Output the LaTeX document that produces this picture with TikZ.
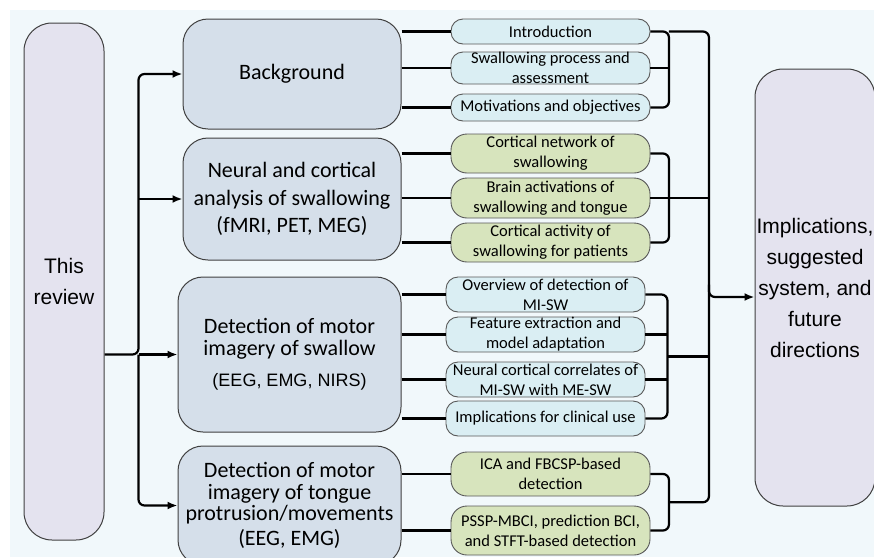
\documentclass[tikz,border=0pt]{standalone}
\usepackage{fontspec}
\setmainfont{Carlito}
\newfontfamily\arialfont{Liberation Sans}
\usetikzlibrary{arrows.meta}
\usetikzlibrary{calc}

\definecolor{panelbg}{HTML}{F1F8FB}
\definecolor{mainfill}{HTML}{D5DFEA}
\definecolor{sidefill}{HTML}{E4E3EF}
\definecolor{bluefill}{HTML}{DAEEF3}
\definecolor{greenfill}{HTML}{D7E4BD}

\tikzset{
  mainbox/.style={draw=black!75, line width=1pt, fill=mainfill, rounded corners=25pt, align=center, inner sep=0pt, font=\fontsize{22}{27.5}\selectfont},
  sidebox/.style={draw=black!75, line width=1pt, fill=sidefill, rounded corners=28pt, align=center, inner sep=0pt, font=\arialfont\fontsize{21}{31}\selectfont},
  subblue/.style={draw=black!65, line width=0.9pt, fill=bluefill, rounded corners=12pt, align=center, inner sep=0pt, minimum width=199pt, font=\fontsize{16.5}{20}\selectfont},
  subgreen/.style={subblue, fill=greenfill, rounded corners=16pt},
  link/.style={line width=2.2pt, rounded corners=6pt},
  arrow/.style={link, -{Latex[length=10pt,width=8pt]}},
}

\begin{document}
\begin{tikzpicture}[x=1pt,y=1pt,yscale=-1]
\useasboundingbox (0,0) rectangle (874,557);
%Shape: Rectangle
\fill[panelbg] (10,10) rectangle (874,557);

%Outer boxes
\node[sidebox, minimum width=80pt, minimum height=517pt] (review) at (64,281.5) {This\\review};
\node[sidebox, minimum width=120pt, minimum height=437pt] (impl) at (815,287.5) {Implications,\\suggested\\system, and\\future\\directions};

%Main boxes
\node[mainbox, minimum width=218pt, minimum height=110pt] (bg) at (292,74) {Background};
\node[mainbox, minimum width=218pt, minimum height=122pt] (neural) at (292,199) {Neural and cortical\\analysis of swallowing\\(fMRI, PET, MEG)};
\node[mainbox, minimum width=223pt, minimum height=155pt, font=\fontsize{22}{21.5}\selectfont] (detsw) at (289.5,354.5) {Detection of motor\\imagery of swallow\\[9.5pt]{\arialfont\fontsize{18}{20}\selectfont(EEG, EMG, NIRS)}};
\node[mainbox, minimum width=223pt, minimum height=119pt, font=\fontsize{22}{21.5}\selectfont] (tongue) at (289.5,505.5) {Detection of motor\\imagery of tongue\\protrusion/movements\\[3pt](EEG, EMG)};

%Sub items
\node[subblue, minimum height=25pt] (intro) at (550.5,31.5) {Introduction};
\node[subblue, minimum height=32pt] (swproc) at (550.5,68) {Swallowing process and\\assessment};
\node[subblue, minimum height=27pt] (motiv) at (550.5,107.5) {Motivations and objectives};
\node[subgreen, minimum height=39pt] (cortnet) at (550.5,153.5) {Cortical network of\\swallowing};
\node[subgreen, minimum height=40pt] (brainact) at (550.5,198) {Brain activations of\\swallowing and tongue};
\node[subgreen, minimum height=39pt] (cortact) at (550.5,242.5) {Cortical activity of\\swallowing for patients};
\node[subblue, minimum height=35pt] (overview) at (545.5,294.5) {Overview of detection of\\MI-SW};
\node[subblue, minimum height=35pt] (feature) at (545.5,334.5) {Feature extraction and\\model adaptation};
\node[subblue, minimum height=35pt] (correl) at (545.5,379.5) {Neural cortical correlates of\\MI-SW with ME-SW};
\node[subblue, minimum height=35pt] (implic) at (545.5,418.5) {Implications for clinical use};
\node[subgreen, minimum height=44pt] (ica) at (550.5,474) {ICA and FBCSP-based\\detection};
\node[subgreen, minimum height=49pt] (pssp) at (550.5,530.5) {PSSP-MBCI, prediction BCI,\\and STFT-based detection};

%Junctions
\coordinate (split) at ($(review.east |- detsw.west)+(34,0)$);
\coordinate (bgj) at ($(intro.east)+(18.5,0)$);
\coordinate (dtj) at ($(overview.east)!0.5!(implic.east)+(22,0)$);
\coordinate (tgj) at ($(ica.east)!0.5!(pssp.east)+(18.5,0)$);
\coordinate (trunk) at ($(tgj)+(40,0)$);

%Left arrows
\draw[arrow] (review.east |- detsw.west) -| (split |- bg.west) -- (bg.west);
\draw[arrow] (split) -- (detsw.west);
\draw[arrow] (split |- neural.west) -- (neural.west);
\draw[arrow] (split) |- (tongue.west);

%Straight Lines
\draw[link] (bg.east |- intro.west) -- (intro.west);
\draw[link] (bg.east |- swproc.west) -- (swproc.west);
\draw[link] (bg.east |- motiv.west) -- (motiv.west);
\draw[link] (neural.east |- cortnet.west) -- (cortnet.west);
\draw[link] (neural.east |- brainact.west) -- (brainact.west);
\draw[link] (neural.east |- cortact.west) -- (cortact.west);
\draw[link] (detsw.east |- overview.west) -- (overview.west);
\draw[link] (detsw.east |- feature.west) -- (feature.west);
\draw[link] (detsw.east |- correl.west) -- (correl.west);
\draw[link] (detsw.east |- implic.west) -- (implic.west);
\draw[link] (tongue.east |- ica.west) -- (ica.west);
\draw[link] (tongue.east |- pssp.west) -- (pssp.west);

%Brackets
\draw[link] (intro.east) -- (bgj) |- (motiv.east);
\draw[link] (swproc.east) -- ++(18.5,0);
\draw[link] (cortnet.east) -- ++(18.5,0) |- (cortact.east);
\draw[link] (overview.east) -- ++(22,0) |- (implic.east);
\draw[link] (feature.east) -- ++(22,0);
\draw[link] (correl.east) -- ++(22,0);
\draw[link] (ica.east) -- ++(18.5,0) |- (pssp.east);

%Right trunk
\draw[link] (bgj) -| (trunk) -- (tgj);
\draw[link] (brainact.east) -- (brainact.east -| trunk);
\draw[link] (dtj) -- (dtj -| trunk);
\draw[arrow] ($(impl.west -| trunk)+(0,-3)$) |- ($(impl.west)+(0,9.5)$);

\end{tikzpicture}
\end{document}
